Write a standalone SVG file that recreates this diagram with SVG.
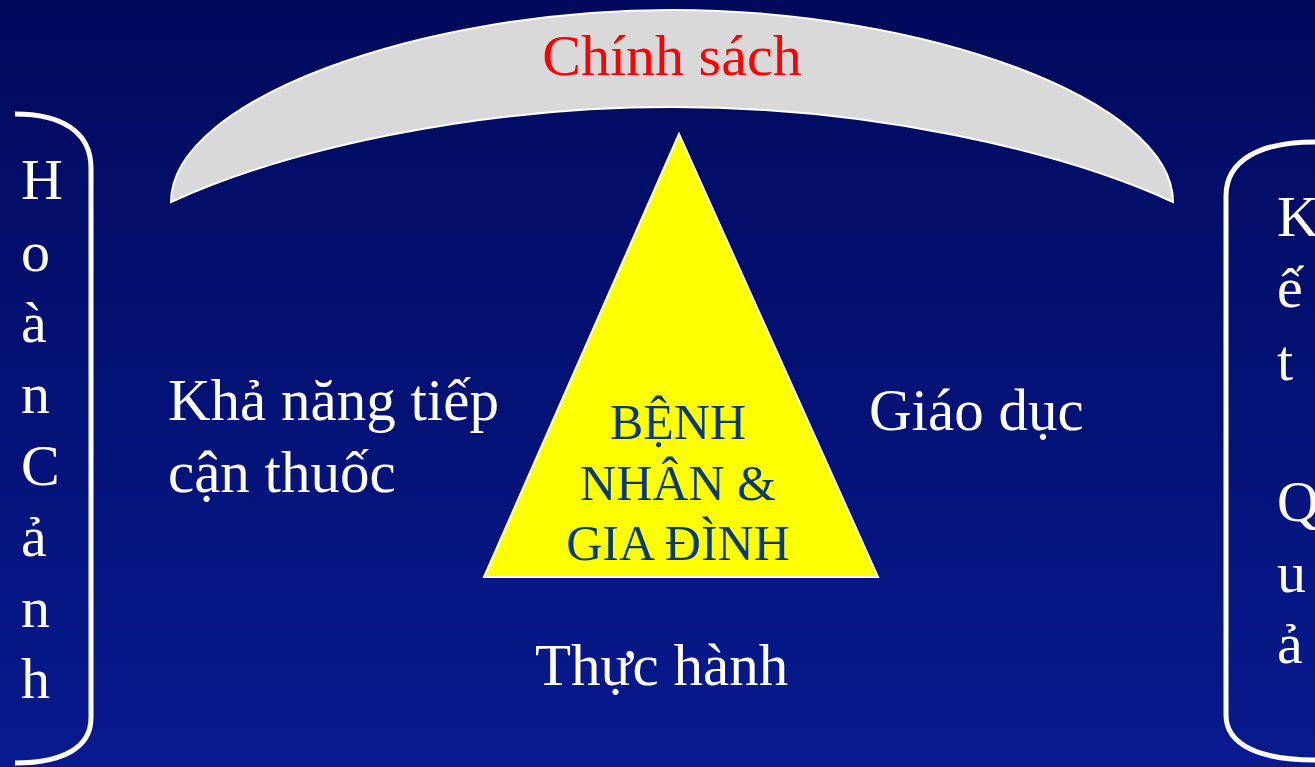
<svg xmlns="http://www.w3.org/2000/svg" width="1315" height="767" viewBox="0 0 1315 767">
  <defs>
    <linearGradient id="bg" x1="0" y1="0" x2="0" y2="1">
      <stop offset="0" stop-color="#00095b"/>
      <stop offset="1" stop-color="#081a8f"/>
    </linearGradient>
    <style>
      .serif { font-family: "Liberation Serif", "Times New Roman", serif; }
      .white { fill: #ffffff; font-size: 59px; }
      .letter { fill: #ffffff; font-size: 58px; }
      .tri { fill: #0a3a6e; font-size: 50px; text-anchor: middle; }
      .bracket { fill: none; stroke: #ffffff; stroke-width: 5; }
    </style>
  </defs>
  <rect width="1315" height="767" fill="url(#bg)"/>

  <g id="policy-arc">
    <path d="M171,202 C171,100 420,10 672,10 C924,10 1173,100 1173,202 C1060,150 870,107 672,107 C474,107 284,150 171,202 Z" fill="#d9d9d9" stroke="#ffffff" stroke-width="2"/>
    <text class="serif" x="672" y="75" fill="#ff0000" font-size="58" text-anchor="middle">Chính sách</text>
  </g>

  <g id="left-bracket">
    <path class="bracket" d="M15,114 C62,114 91,132 91,168 L91,718 C91,748 62,763 15,763"/>
    <text class="serif letter" x="21" y="199">H</text>
    <text class="serif letter" x="21" y="271">o</text>
    <text class="serif letter" x="21" y="342">à</text>
    <text class="serif letter" x="21" y="413">n</text>
    <text class="serif letter" x="21" y="485">C</text>
    <text class="serif letter" x="21" y="556">ả</text>
    <text class="serif letter" x="21" y="627">n</text>
    <text class="serif letter" x="21" y="698">h</text>
  </g>

  <g id="right-bracket">
    <path class="bracket" d="M1315,142 C1260,142 1226,160 1226,196 L1226,715 C1226,745 1260,760 1315,760"/>
    <text class="serif letter" x="1277" y="236">K</text>
    <text class="serif letter" x="1277" y="307">ế</text>
    <text class="serif letter" x="1277" y="380">t</text>
    <text class="serif letter" x="1277" y="521">Q</text>
    <text class="serif letter" x="1277" y="592">u</text>
    <text class="serif letter" x="1277" y="663">ả</text>
  </g>

  <g id="patient-triangle">
    <polygon points="679,134 484,577 878,577" fill="#ffff00" stroke="#ffffff" stroke-width="2"/>
    <text class="serif tri" x="678" y="439">BỆNH</text>
    <text class="serif tri" x="678" y="500">NHÂN &amp;</text>
    <text class="serif tri" x="678" y="560">GIA ĐÌNH</text>
  </g>

  <g id="access">
    <text class="serif white" x="168" y="420">Khả năng tiếp</text>
    <text class="serif white" x="168" y="492">cận thuốc</text>
  </g>
  <g id="education">
    <text class="serif white" x="869" y="430">Giáo dục</text>
  </g>
  <g id="practice">
    <text class="serif white" x="535" y="685">Thực hành</text>
  </g>

  <g id="connectors"></g>
</svg>
